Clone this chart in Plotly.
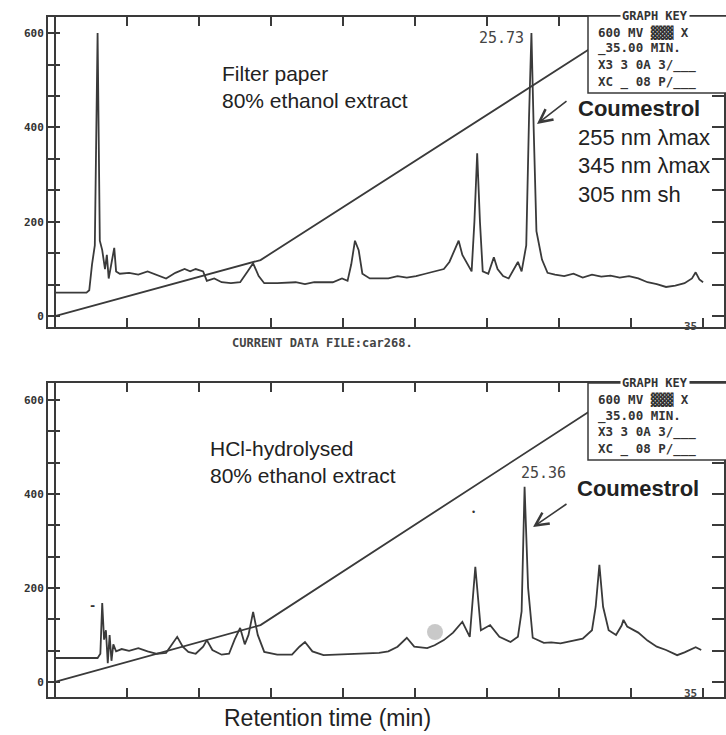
import plotly.graph_objects as go

# ---------------- data ----------------
top_time = [0, 1.7, 1.85, 2.0, 2.15, 2.3, 2.42, 2.55, 2.7, 2.8, 2.9, 3.05, 3.2, 3.3, 3.5, 4.0, 4.5, 5.0,
            5.5, 6.0, 6.5, 7.0, 7.3, 7.6, 8.0, 8.2, 8.6, 9.0, 9.5, 10.0, 10.4, 10.7, 11.0, 11.3, 12, 13,
            13.5, 14, 15, 15.5, 15.8, 16.0, 16.2, 16.4, 16.6, 17, 18, 18.5, 19, 19.5, 20, 20.5, 21.0,
            21.3, 21.6, 21.8, 22.0, 22.3, 22.5, 22.65, 22.8, 22.95, 23.1, 23.4, 23.7, 23.9, 24.2, 24.5,
            24.8, 25.0, 25.2, 25.45, 25.6, 25.73, 25.85, 26.0, 26.3, 26.6, 27, 27.5, 28, 28.5, 29, 29.5,
            30, 30.5, 31, 31.5, 32, 32.5, 33, 33.5, 34, 34.4, 34.6, 34.8, 35]
top_signal = [50, 50, 55, 110, 150, 600, 160, 140, 100, 130, 80, 110, 145, 95, 90, 92, 88, 95,
              88, 80, 92, 100, 95, 100, 95, 75, 80, 72, 70, 72, 95, 112, 85, 70, 70, 72,
              68, 72, 72, 80, 75, 110, 160, 140, 90, 80, 80, 85, 82, 85, 90, 95, 100,
              115, 140, 160, 130, 110, 95, 200, 345, 200, 95, 90, 125, 100, 85, 80,
              100, 115, 95, 150, 420, 600, 400, 180, 120, 92, 88, 85, 90, 82, 88, 84,
              86, 82, 85, 80, 72, 68, 62, 65, 70, 80, 93, 78, 72]

bottom_time = [0, 2.3, 2.45, 2.55, 2.65, 2.75, 2.85, 2.95, 3.05, 3.15, 3.3, 3.6, 4.0, 4.5, 5.0, 5.5,
               6.0, 6.3, 6.6, 6.9, 7.2, 7.6, 8.0, 8.2, 8.5, 9.0, 9.4, 9.7, 10.0, 10.25, 10.45, 10.7,
               10.95, 11.3, 12, 12.8, 13.2, 13.5, 13.9, 14.5, 15, 16, 17, 17.5, 18, 18.5, 19.0, 19.4,
               20.1, 20.5, 21.0, 21.5, 22.0, 22.4, 22.7, 23.0, 23.5, 24.0, 24.6, 25.0, 25.2, 25.36,
               25.55, 25.8, 26.4, 26.8, 27.3, 28.0, 28.5, 29.0, 29.2, 29.4, 29.6, 29.9, 30.3, 30.6,
               30.7, 30.9, 31.2, 31.5, 32, 32.5, 33.0, 33.6, 34.0, 34.6, 34.9]
bottom_signal = [51, 51, 60, 168, 90, 110, 40, 100, 45, 80, 65, 70, 66, 72, 65, 60,
                 62, 80, 96, 75, 64, 60, 75, 89, 68, 58, 60, 90, 115, 80, 100, 149,
                 100, 64, 58, 58, 75, 85, 65, 57, 58, 60, 62, 62, 65, 75, 94, 75,
                 72, 78, 89, 105, 128, 96, 245, 110, 121, 96, 85, 96, 150, 415,
                 200, 94, 83, 84, 82, 88, 92, 110, 160, 249, 160, 110, 100, 120,
                 132, 118, 112, 105, 88, 75, 68, 57, 63, 74, 68]

gradient_time = [0, 11.1, 29.5]
gradient_top = [0, 119, 582]
gradient_bottom = [0, 121, 592]

y_ticks = [0, 66.67, 133.33, 200, 266.67, 333.33, 400, 466.67, 533.33, 600]
y_tick_labels = ["0", "", "", "200", "", "", "400", "", "", "600"]
x_ticks = [35 / 9 * k for k in range(0, 10)]

# ---------------- figure ----------------
INK = "#3a3a3a"
W, H = 726, 735
L, R, T, B = 48, 2, 17, 38


def px(x):
    return (x - L) / (W - L - R)


def py(y):
    return (H - B - y) / (H - T - B)


fig = go.Figure()
for xa, ya, sig, grad in [("x", "y", top_signal, gradient_top),
                          ("x2", "y2", bottom_signal, gradient_bottom)]:
    t = top_time if xa == "x" else bottom_time
    fig.add_trace(go.Scatter(x=gradient_time, y=grad, mode="lines", xaxis=xa, yaxis=ya,
                             line=dict(color=INK, width=1.8), showlegend=False, hoverinfo="skip"))
    fig.add_trace(go.Scatter(x=t, y=sig, mode="lines", xaxis=xa, yaxis=ya,
                             line=dict(color=INK, width=1.8), showlegend=False))

axis_common = dict(showgrid=False, showline=True, linecolor=INK, linewidth=2, mirror="allticks",
                   ticks="inside", tickcolor=INK, tickwidth=1.5, automargin=False)
xcommon = dict(axis_common, range=[-0.378, 36.13], tickmode="array", tickvals=x_ticks,
               ticktext=["" for _ in x_ticks], ticklen=9, zeroline=True, zerolinecolor=INK,
               zerolinewidth=1.5)
ycommon = dict(axis_common, tickmode="array", tickvals=y_ticks, ticktext=y_tick_labels, ticklen=12,
               zeroline=False,
               tickfont=dict(family="DejaVu Sans Mono", size=11, color="#333", weight="bold"))

fig.update_layout(
    width=W, height=H, margin=dict(l=L, r=R, t=T, b=B, autoexpand=False),
    paper_bgcolor="white", plot_bgcolor="white",
    xaxis=dict(xcommon, domain=[0, 1], anchor="y"),
    yaxis=dict(ycommon, domain=[0.544, 1], range=[-23, 634], anchor="x"),
    xaxis2=dict(xcommon, domain=[0, 1], anchor="y2"),
    yaxis2=dict(ycommon, domain=[0, 0.4618], range=[-32, 636], anchor="x2"),
)

sans = "Arial, Liberation Sans, sans-serif"
mono = "DejaVu Sans Mono, monospace"
ann = []


def text(x, y, s, size, family=sans, xanchor="left", color="#222", weight="normal", bg=None):
    d = dict(x=px(x), y=py(y), xref="paper", yref="paper", text=s, showarrow=False,
             xanchor=xanchor, yanchor="middle", align="left",
             font=dict(family=family, size=size, color=color, weight=weight))
    if bg:
        d["bgcolor"] = bg
    ann.append(d)


# labels
text(220, 87, "Filter paper<br>80% ethanol extract", 21)
text(576, 152, "<b>Coumestrol</b><br>255 nm λmax<br>345 nm λmax<br>305 nm sh", 22)
text(501, 38, "25.73", 15, family=mono, xanchor="center", color="#444")
text(208, 462, "HCl-hydrolysed<br>80% ethanol extract", 21)
text(575, 488, "<b>Coumestrol</b>", 22)
text(543, 473, "25.36", 15, family=mono, xanchor="center", color="#444")
text(322, 343, "CURRENT DATA FILE:car268.", 12, family=mono, xanchor="center", color="#444",
     weight="bold")
text(327, 718, "Retention time (min)", 23, xanchor="center")
text(690, 326, "35", 11, family=mono, xanchor="center", color="#444", weight="bold")
text(690, 693, "35", 11, family=mono, xanchor="center", color="#444", weight="bold")
text(92, 606, "-", 12, family=mono, xanchor="center", color="#333", weight="bold")
text(473, 512, "•", 9, xanchor="center", color="#333")

# arrows
for hx, hy, tx, ty in [(537, 124, 568, 100), (533, 527, 568, 503)]:
    ann.append(dict(x=px(hx), y=py(hy), xref="paper", yref="paper", ax=tx - hx, ay=ty - hy,
                    showarrow=True, arrowhead=5, arrowsize=1.6, arrowwidth=1.6, arrowcolor=INK,
                    text=""))

# graph keys
shapes = []
for top, bot in [(16, 93), (383, 460)]:
    shapes.append(dict(type="rect", xref="paper", yref="paper", x0=px(588), x1=px(730),
                       y0=py(bot), y1=py(top), fillcolor="white",
                       line=dict(color=INK, width=1.5), layer="above"))
    text(655, top, "GRAPH KEY", 12, family=mono, xanchor="center", color="#333", weight="bold",
         bg="white")
    lines = ["600 MV ▓▓▓ X", "_35.00 MIN.", "X3 3 0A 3/___", "XC _ 08 P/___"]
    for i, s in enumerate(lines):
        text(596, top + 16 + i * 16.5, s, 12.5, family=mono, color="#333", weight="bold")

# scan blob
shapes.append(dict(type="circle", xref="paper", yref="paper", x0=px(427), x1=px(443),
                   y0=py(640), y1=py(624), fillcolor="#bbbbbb", line=dict(width=0),
                   opacity=0.8, layer="above"))

fig.update_layout(annotations=ann, shapes=shapes)
fig.write_html("out.html", config={"displayModeBar": False},
               post_script="document.body.style.margin='0px';document.body.style.overflow='hidden';")
